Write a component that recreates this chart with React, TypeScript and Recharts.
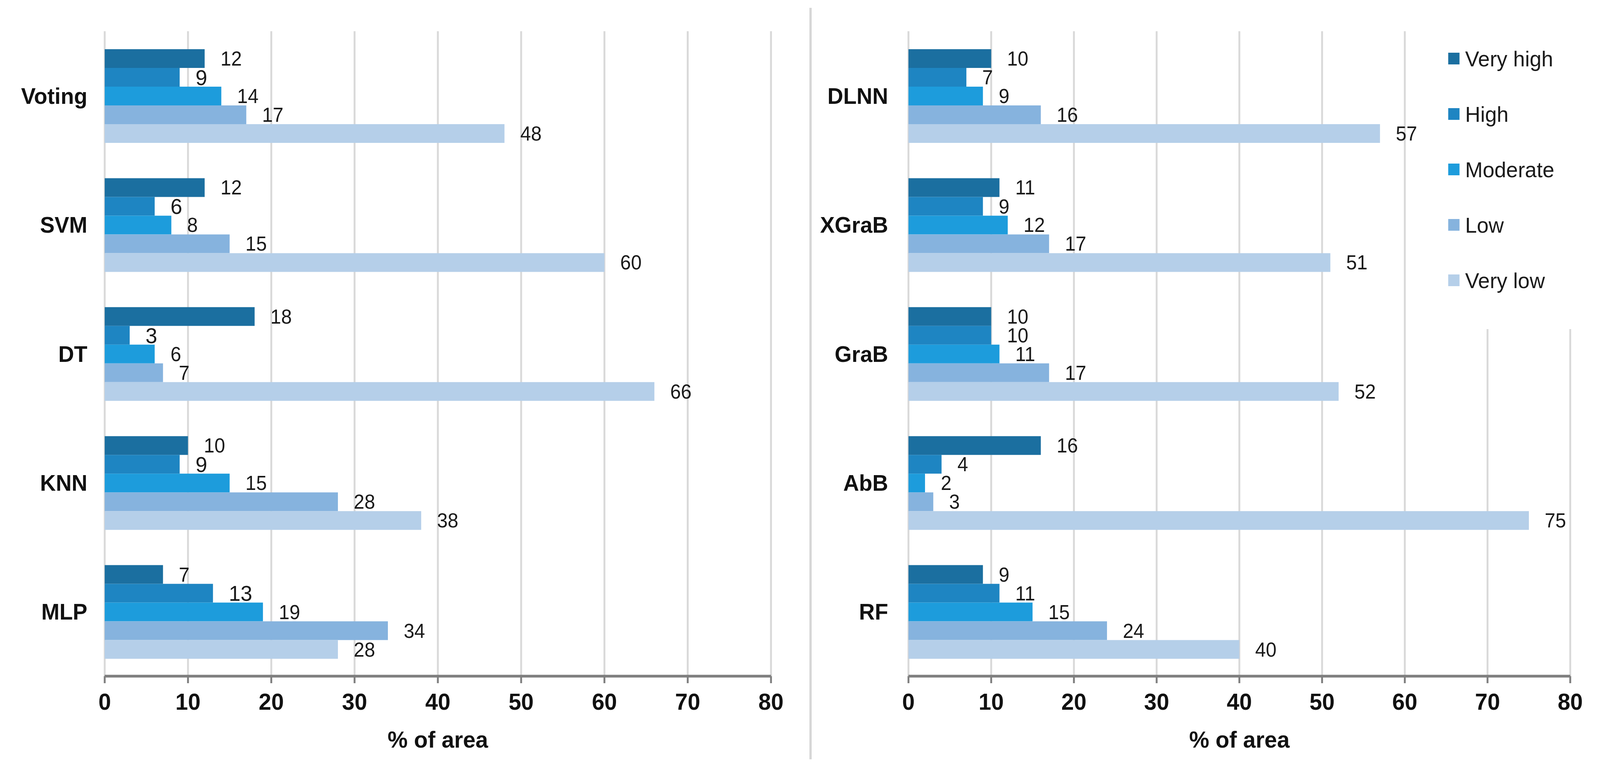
import { BarChart, Bar, XAxis, YAxis, CartesianGrid, LabelList, Legend, Label } from "recharts";

const FONT = "'Liberation Sans', Arial, sans-serif";
const PAGE_W = 4248;
const PAGE_H = 1957;

const classes = ["Very high", "High", "Moderate", "Low", "Very low"];
const colors = ["#1b6fa0", "#1e85c2", "#1d9cdc", "#86b3de", "#b5cfe9"];
const xTicks = [0, 10, 20, 30, 40, 50, 60, 70, 80];

// left panel
const leftModels = ["Voting", "SVM", "DT", "KNN", "MLP"];
const leftVeryHigh = [12, 12, 18, 10, 7];
const leftHigh = [9, 6, 3, 9, 13];
const leftModerate = [14, 8, 6, 15, 19];
const leftLow = [17, 15, 7, 28, 34];
const leftVeryLow = [48, 60, 66, 38, 28];

// right panel
const rightModels = ["DLNN", "XGraB", "GraB", "AbB", "RF"];
const rightVeryHigh = [10, 11, 10, 16, 9];
const rightHigh = [7, 9, 10, 4, 11];
const rightModerate = [9, 12, 11, 2, 15];
const rightLow = [16, 17, 17, 3, 24];
const rightVeryLow = [57, 51, 52, 75, 40];

function buildRows(models: string[], series: number[][]) {
  return models.map((model, i) => {
    const row: Record<string, string | number> = { model };
    classes.forEach((c, k) => (row[c] = series[k][i]));
    return row;
  });
}

const leftRows = buildRows(leftModels, [leftVeryHigh, leftHigh, leftModerate, leftLow, leftVeryLow]);
const rightRows = buildRows(rightModels, [rightVeryHigh, rightHigh, rightModerate, rightLow, rightVeryLow]);

function LegendBox() {
  return (
    <div style={{ background: "#fff", width: "100%", height: "100%", paddingLeft: 75, boxSizing: "border-box" }}>
      {classes.map((c, i) => (
        <div key={c} style={{ height: 142, display: "flex", alignItems: "center" }}>
          <span style={{ width: 30, height: 30, background: colors[i], marginRight: 15, display: "inline-block" }} />
          <span style={{ fontFamily: FONT, fontSize: 56, color: "#1a1a1a" }}>{c}</span>
        </div>
      ))}
    </div>
  );
}

type PanelProps = {
  rows: Record<string, string | number>[];
  width: number;
  yWidth: number;
  labelGap: number;
  right: number;
  highLabelSize: number;
  legend?: boolean;
};

function Panel({ rows, width, yWidth, labelGap, right, highLabelSize, legend }: PanelProps) {
  return (
    <BarChart
      layout="vertical"
      width={width}
      height={PAGE_H}
      data={rows}
      margin={{ top: 80, right, bottom: 105, left: 0 }}
      barCategoryGap={46}
      barGap={0}
    >
      <CartesianGrid horizontal={false} stroke="#d9d9d9" strokeWidth={5} />
      <XAxis
        type="number"
        domain={[0, 80]}
        ticks={xTicks}
        interval={0}
        height={120}
        axisLine={{ stroke: "#7f7f7f", strokeWidth: 7 }}
        tickLine={{ stroke: "#7f7f7f", strokeWidth: 5 }}
        tickSize={18}
        tickMargin={25}
        tick={{ fontSize: 60, fontWeight: 700, fill: "#111", fontFamily: FONT }}
      >
        <Label
          value="% of area"
          position="bottom"
          offset={20}
          style={{ fontSize: 60, fontWeight: 700, fill: "#111", fontFamily: FONT }}
        />
      </XAxis>
      <YAxis
        type="category"
        dataKey="model"
        width={yWidth}
        interval={0}
        axisLine={false}
        tickLine={false}
        tickSize={0}
        tickMargin={labelGap}
        tick={{ fontSize: 58, fontWeight: 700, fill: "#111", fontFamily: FONT }}
      />
      {classes.map((c, i) => (
        <Bar key={c} dataKey={c} fill={colors[i]} isAnimationActive={false}>
          <LabelList
            dataKey={c}
            position="right"
            offset={42}
            fontSize={c === "High" ? highLabelSize : 51}
            fill="#1a1a1a"
            fontFamily={FONT}
          />
        </Bar>
      ))}
      {legend && (
        <Legend
          layout="vertical"
          align="center"
          verticalAlign="middle"
          wrapperStyle={{ left: 1618, top: 79, width: 478, height: 764 }}
          content={() => <LegendBox />}
        />
      )}
    </BarChart>
  );
}

export default function App() {
  // the browser viewport is capped narrower than the page size, so squeeze horizontally to fit
  const sx = Math.min(1, window.innerWidth / PAGE_W);
  return (
    <div
      style={{
        position: "absolute",
        left: 0,
        top: 0,
        width: PAGE_W,
        height: PAGE_H,
        background: "#fff",
        transform: `scale(${sx}, 1)`,
        transformOrigin: "0 0",
      }}
    >
      <div style={{ position: "absolute", left: 0, top: 0 }}>
        <Panel rows={leftRows} width={2152} yWidth={278} labelGap={46} right={105} highLabelSize={56} />
      </div>
      <div style={{ position: "absolute", left: 2149, top: 20, width: 6, height: 1925, background: "#d6d6d6" }} />
      <div style={{ position: "absolute", left: 2152, top: 0 }}>
        <Panel rows={rightRows} width={2096} yWidth={260} labelGap={54} right={79} highLabelSize={51} legend />
      </div>
    </div>
  );
}
